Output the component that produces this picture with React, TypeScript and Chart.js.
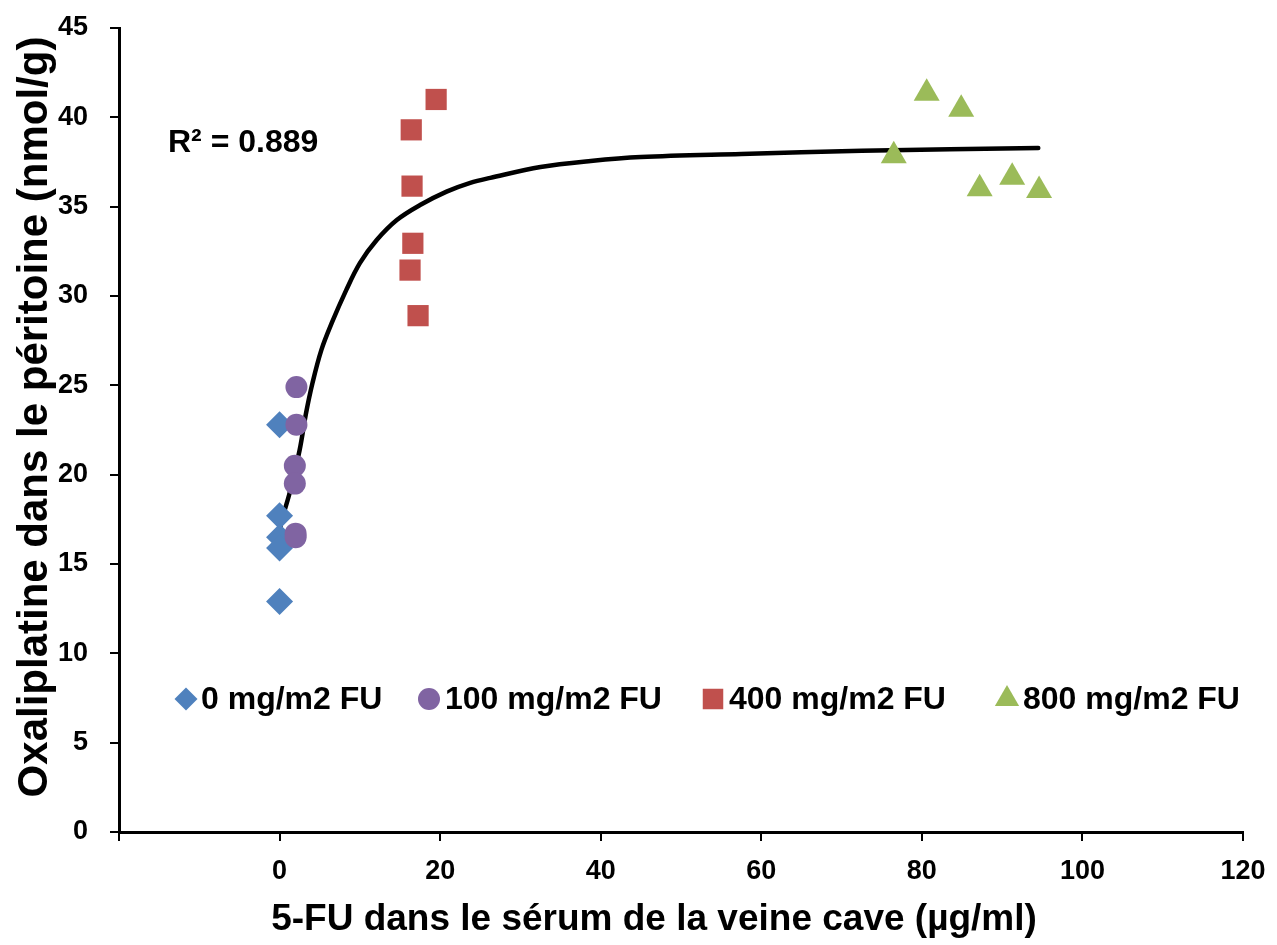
import React, { useEffect, useRef } from 'react';
import { Chart, registerables } from 'chart.js';
import { drawPoint } from 'chart.js/helpers';

Chart.register(...registerables);

// ---- Data ----
const seriesLabels = ['0 mg/m2 FU', '100 mg/m2 FU', '400 mg/m2 FU', '800 mg/m2 FU'];
const seriesColors = ['#4F81BD', '#8064A2', '#C0504D', '#9BBB59'];

const dose0X = [0, 0, 0, 0, 0];
const dose0Y = [22.8, 17.7, 16.5, 15.9, 12.9];

const dose100X = [2.1, 2.1, 1.9, 1.9, 2.0, 2.0];
const dose100Y = [24.9, 22.8, 20.5, 19.5, 16.7, 16.5];

const dose400X = [19.5, 16.4, 16.5, 16.6, 16.25, 17.25];
const dose400Y = [41.0, 39.3, 36.15, 32.95, 31.45, 28.9];

const dose800X = [80.6, 84.9, 76.5, 87.2, 91.25, 94.6];
const dose800Y = [41.35, 40.45, 37.85, 36.0, 36.65, 35.9];

// fitted curve
const fitX = [0, 0.4, 1.25, 2.5, 3.3, 4.1, 5.2, 6.5, 8.3, 10, 12.1, 14.6, 17.5, 20.8, 23.75, 26.25, 32.5, 38.75, 45, 57.5, 72.5, 94.5];
const fitY = [16.9, 17.65, 18.97, 21.38, 23.45, 25.13, 26.97, 28.49, 30.33, 31.84, 33.13, 34.25, 35.09, 35.84, 36.33, 36.61, 37.22, 37.56, 37.78, 37.95, 38.13, 38.28];

const r2Label = 'R\u00B2 = 0.889';
const xTitle = '5-FU dans le s\u00E9rum de la veine cave (\u00B5g/ml)';
const yTitle = 'Oxaliplatine dans le p\u00E9ritoine (nmol/g)';

const xMin = -20, xMax = 120, xStep = 20;
const yMin = 0, yMax = 45, yStep = 5;

const FONT = '"Liberation Sans", Arial, Helvetica, sans-serif';

const toPoints = (xs: number[], ys: number[]) => xs.map((x, i) => ({ x, y: ys[i] }));

const overlayPlugin = {
  id: 'overlayText',
  afterDraw(chart: any) {
    const ctx = chart.ctx as CanvasRenderingContext2D;
    ctx.save();
    ctx.fillStyle = '#000';
    ctx.textBaseline = 'middle';
    ctx.textAlign = 'left';
    ctx.font = `bold 32px ${FONT}`;
    ctx.fillText(r2Label, 168, 143);

    // legend inside the plot
    const markerX = [186, 429, 713, 1007];
    const textX = [201, 445, 729, 1023];
    const legendRadius = [11.5, 11, 14.5, 14];
    const legendY = 699;
    ctx.font = `bold 32px ${FONT}`;
    chart.data.datasets.slice(0, 4).forEach((ds: any, i: number) => {
      ctx.fillStyle = ds.backgroundColor;
      drawPoint(ctx, { pointStyle: ds.pointStyle, radius: legendRadius[i], rotation: 0, borderWidth: 0 } as any, markerX[i], legendY);
      ctx.fillStyle = '#000';
      ctx.fillText(ds.label, textX[i], legendY + 1);
    });

    // axis titles
    ctx.fillStyle = '#000';
    ctx.textAlign = 'center';
    ctx.font = `bold 37px ${FONT}`;
    ctx.fillText(xTitle, 654, 920);
    ctx.save();
    ctx.translate(35, 417);
    ctx.rotate(-Math.PI / 2);
    ctx.font = `bold 42px ${FONT}`;
    ctx.fillText(yTitle, 0, 0);
    ctx.restore();
    ctx.restore();
  },
};

export default function App() {
  const ref = useRef<HTMLCanvasElement | null>(null);

  useEffect(() => {
    if (!ref.current) return;
    const styles = ['rectRot', 'circle', 'rect', 'triangle'];
    const radii = [13.5, 11, 15, 15];
    const xs = [dose0X, dose100X, dose400X, dose800X];
    const ys = [dose0Y, dose100Y, dose400Y, dose800Y];
    const scatterSets = seriesLabels.map((label, i) => ({
      label,
      data: toPoints(xs[i], ys[i]),
      backgroundColor: seriesColors[i],
      borderColor: seriesColors[i],
      pointStyle: styles[i],
      pointRadius: radii[i],
      pointBorderWidth: 0,
      borderWidth: 0,
      showLine: false,
      order: 4 - i,
    }));

    const chart = new Chart(ref.current, {
      type: 'scatter',
      data: {
        datasets: [
          ...scatterSets,
          {
            label: 'fit',
            data: toPoints(fitX, fitY),
            showLine: true,
            borderColor: '#000',
            backgroundColor: '#000',
            borderWidth: 4.5,
            pointRadius: 0,
            tension: 0.35,
            borderCapStyle: 'round',
            borderJoinStyle: 'round',
            fill: false,
            order: 5,
          } as any,
        ],
      },
      options: {
        responsive: false,
        animation: false,
        devicePixelRatio: 1,
        layout: { padding: { top: 28, right: 34, left: 0, bottom: 0 } },
        plugins: { legend: { display: false }, tooltip: { enabled: false } },
        scales: {
          x: {
            type: 'linear',
            min: xMin,
            max: xMax,
            ticks: {
              stepSize: xStep,
              color: '#000',
              font: { family: FONT, size: 27, weight: 'bold' },
              padding: 14,
              maxRotation: 0,
              callback: (v: any) => (v === xMin ? '' : String(v)),
            },
            grid: { display: true, drawOnChartArea: false, drawTicks: true, tickLength: 9, color: '#000', lineWidth: 2 },
            border: { display: true, color: '#000', width: 3 },
            title: { display: false },
            afterFit: (s: any) => { s.height = 113; s.paddingLeft = 0; s.paddingRight = 0; },
          },
          y: {
            type: 'linear',
            min: yMin,
            max: yMax,
            ticks: {
              stepSize: yStep,
              color: '#000',
              font: { family: FONT, size: 27, weight: 'bold' },
              padding: 22,
            },
            grid: { display: true, drawOnChartArea: false, drawTicks: true, tickLength: 9, color: '#000', lineWidth: 2 },
            border: { display: true, color: '#000', width: 3 },
            title: { display: false },
            afterFit: (s: any) => { s.width = 119; s.paddingTop = 0; s.paddingBottom = 0; },
          },
        },
      } as any,
      plugins: [overlayPlugin],
    });
    return () => chart.destroy();
  }, []);

  return (
    <div style={{ position: 'absolute', left: 0, top: 0, width: 1277, height: 945, background: '#fff' }}>
      <canvas ref={ref} width={1277} height={945} style={{ display: 'block' }} />
    </div>
  );
}
